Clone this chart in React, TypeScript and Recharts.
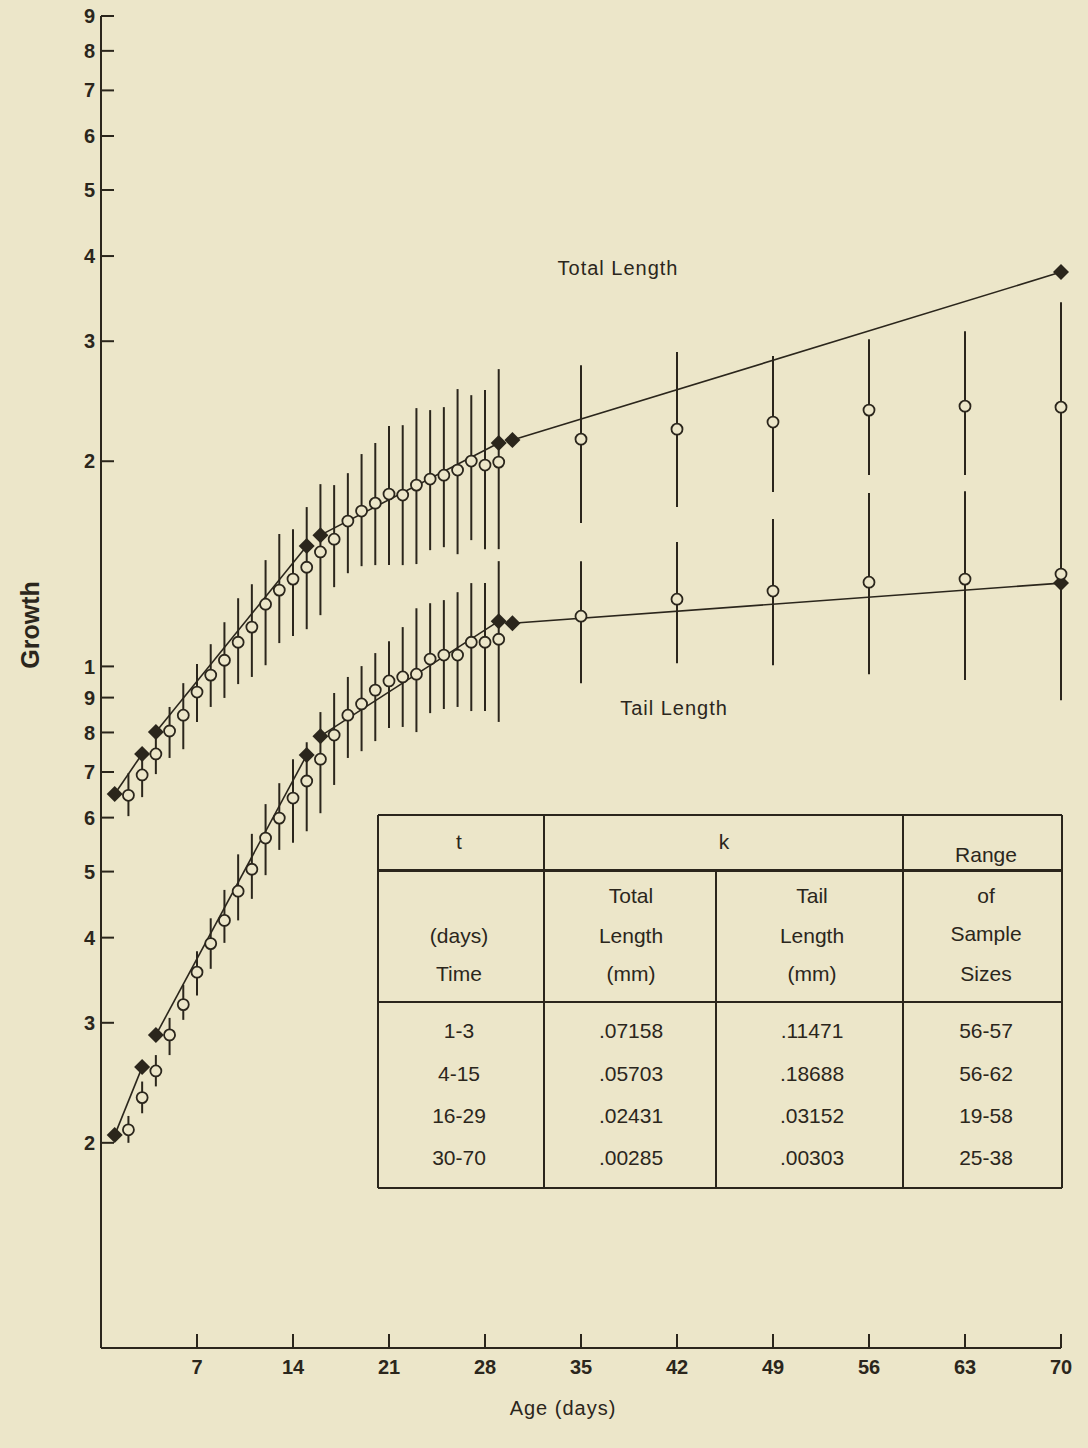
import { ComposedChart, Scatter, XAxis, YAxis, ErrorBar } from "recharts";

const INK = "#2b261c";
const BG = "#ece6c9";
const FONT = "'Liberation Sans', Arial, Helvetica, sans-serif";

const xTicks = [7, 14, 21, 28, 35, 42, 49, 56, 63, 70];
const yTicks = [0.2, 0.3, 0.4, 0.5, 0.6, 0.7, 0.8, 0.9, 1, 2, 3, 4, 5, 6, 7, 8, 9];

// sampled ages (days)
const sampleDays = [
  2, 3, 4, 5, 6, 7, 8, 9, 10, 11, 12, 13, 14, 15, 16, 17, 18, 19, 20, 21, 22, 23, 24, 25, 26, 27, 28, 29,
  35, 42, 49, 56, 63, 70,
];

// total length: mean and range
const totalMean = [
  0.647, 0.693, 0.744, 0.804, 0.848, 0.917, 0.971, 1.021, 1.085, 1.142, 1.234, 1.294, 1.343, 1.398,
  1.472, 1.537, 1.634, 1.69, 1.736, 1.79, 1.784, 1.845, 1.883, 1.908, 1.941, 2.001, 1.974, 1.994,
  2.155, 2.229, 2.283, 2.377, 2.409, 2.401,
];
const totalLow = [
  0.603, 0.643, 0.695, 0.734, 0.756, 0.829, 0.872, 0.899, 0.942, 0.965, 1.004, 1.082, 1.108, 1.134,
  1.189, 1.307, 1.37, 1.403, 1.408, 1.408, 1.408, 1.413, 1.481, 1.496, 1.461, 1.532, 1.486, 1.486,
  1.623, 1.713, 1.802, 1.909, 1.909, 1.679,
];
const totalHigh = [
  0.697, 0.741, 0.788, 0.872, 0.945, 1.008, 1.078, 1.161, 1.259, 1.32, 1.432, 1.564, 1.59, 1.713,
  1.851, 1.845, 1.921, 2.049, 2.127, 2.252, 2.259, 2.393, 2.377, 2.401, 2.552, 2.5, 2.543, 2.73,
  2.767, 2.892, 2.853, 3.021, 3.103, 3.422,
];

// tail length: mean and range
const tailMean = [
  0.209, 0.233, 0.255, 0.288, 0.319, 0.356, 0.392, 0.424, 0.468, 0.504, 0.56, 0.599, 0.641, 0.679,
  0.731, 0.793, 0.848, 0.881, 0.923, 0.952, 0.965, 0.974, 1.025, 1.039, 1.039, 1.085, 1.085, 1.096,
  1.185, 1.255, 1.29, 1.329, 1.343, 1.366,
];
const tailLow = [
  0.2, 0.221, 0.242, 0.269, 0.303, 0.329, 0.36, 0.393, 0.424, 0.456, 0.494, 0.538, 0.551, 0.573,
  0.609, 0.67, 0.734, 0.751, 0.777, 0.812, 0.815, 0.801, 0.854, 0.866, 0.872, 0.86, 0.86, 0.829,
  0.945, 1.011, 1.004, 0.974, 0.955, 0.892,
];
const tailHigh = [
  0.219, 0.246, 0.269, 0.305, 0.341, 0.382, 0.427, 0.47, 0.53, 0.568, 0.628, 0.674, 0.731, 0.774,
  0.857, 0.914, 0.965, 1.001, 1.046, 1.089, 1.142, 1.217, 1.238, 1.251, 1.285, 1.325, 1.325, 1.427,
  1.427, 1.522, 1.645, 1.796, 1.807, 1.987,
];

// fitted segments (start/end day and value)
const fitDays = [
  [1, 3],
  [4, 15],
  [16, 29],
  [30, 70],
];
const totalFit = [
  [0.65, 0.744],
  [0.801, 1.502],
  [1.558, 2.127],
  [2.148, 3.789],
];
const tailFit = [
  [0.2053, 0.2583],
  [0.2878, 0.7412],
  [0.79, 1.165],
  [1.157, 1.325],
];

// inset table
const tablePeriods = ["1-3", "4-15", "16-29", "30-70"];
const tableTotalK = [".07158", ".05703", ".02431", ".00285"];
const tableTailK = [".11471", ".18688", ".03152", ".00303"];
const tableRanges = ["56-57", "56-62", "19-58", "25-38"];

const sampleData = (mean: number[], low: number[], high: number[]) =>
  sampleDays.map((d, i) => ({ x: d, y: mean[i], err: [mean[i] - low[i], high[i] - mean[i]] }));

const fitData = (fit: number[][]) =>
  fitDays.map((days, i) => [
    { x: days[0], y: fit[i][0] },
    { x: days[1], y: fit[i][1] },
  ]);

const Circle = (props: any) => (
  <circle cx={props.cx} cy={props.cy} r={5.5} fill={BG} stroke={INK} strokeWidth={1.8} />
);

const Diamond = (props: any) => {
  const { cx, cy } = props;
  const s = 8;
  return (
    <polygon
      points={`${cx},${cy - s} ${cx + s},${cy} ${cx},${cy + s} ${cx - s},${cy}`}
      fill={INK}
    />
  );
};

const yFmt = (v: number) => (v < 1 ? String(Math.round(v * 10)) : String(v));

const tickStyle = { fontSize: 20, fontWeight: 700, fill: INK, fontFamily: FONT };

// table geometry (page px)
const colX = [378, 544, 716, 903, 1062];
const rowY = [815, 870, 1002, 1188];
const colCenter = [459, 631, 812, 986];
const dataRowY = [1030, 1073, 1115, 1157];

function Txt({ x, y, children, size = 21, weight = 400, style = {} }: any) {
  return (
    <div
      style={{
        position: "absolute",
        left: x,
        top: y,
        transform: "translate(-50%, -50%)",
        fontSize: size,
        fontWeight: weight,
        color: INK,
        fontFamily: FONT,
        whiteSpace: "nowrap",
        lineHeight: 1,
        ...style,
      }}
    >
      {children}
    </div>
  );
}

function Rule({ x1, y1, x2, y2, w = 2 }: any) {
  const horiz = y1 === y2;
  return (
    <div
      style={{
        position: "absolute",
        left: horiz ? x1 : x1 - w / 2,
        top: horiz ? y1 - w / 2 : y1,
        width: horiz ? x2 - x1 : w,
        height: horiz ? w : y2 - y1,
        background: INK,
      }}
    />
  );
}

function GrowthTable() {
  return (
    <>
      <Rule x1={colX[0]} y1={rowY[0]} x2={colX[4]} y2={rowY[0]} />
      <Rule x1={colX[0]} y1={rowY[1]} x2={colX[4]} y2={rowY[1]} w={3} />
      <Rule x1={colX[0]} y1={rowY[2]} x2={colX[4]} y2={rowY[2]} />
      <Rule x1={colX[0]} y1={rowY[3]} x2={colX[4]} y2={rowY[3]} />
      <Rule x1={colX[0]} y1={rowY[0]} x2={colX[0]} y2={rowY[3]} />
      <Rule x1={colX[1]} y1={rowY[0]} x2={colX[1]} y2={rowY[3]} />
      <Rule x1={colX[2]} y1={rowY[1]} x2={colX[2]} y2={rowY[3]} />
      <Rule x1={colX[3]} y1={rowY[0]} x2={colX[3]} y2={rowY[3]} />
      <Rule x1={colX[4]} y1={rowY[0]} x2={colX[4]} y2={rowY[3]} />

      <Txt x={colCenter[0]} y={841}>t</Txt>
      <Txt x={724} y={841}>k</Txt>
      <Txt x={colCenter[3]} y={854}>Range</Txt>

      <Txt x={colCenter[0]} y={935}>(days)</Txt>
      <Txt x={colCenter[0]} y={973}>Time</Txt>
      <Txt x={colCenter[1]} y={895}>Total</Txt>
      <Txt x={colCenter[1]} y={935}>Length</Txt>
      <Txt x={colCenter[1]} y={973}>(mm)</Txt>
      <Txt x={colCenter[2]} y={895}>Tail</Txt>
      <Txt x={colCenter[2]} y={935}>Length</Txt>
      <Txt x={colCenter[2]} y={973}>(mm)</Txt>
      <Txt x={colCenter[3]} y={895}>of</Txt>
      <Txt x={colCenter[3]} y={933}>Sample</Txt>
      <Txt x={colCenter[3]} y={973}>Sizes</Txt>

      {tablePeriods.map((p, i) => (
        <Txt key={"p" + i} x={colCenter[0]} y={dataRowY[i]}>{p}</Txt>
      ))}
      {tableTotalK.map((v, i) => (
        <Txt key={"tk" + i} x={colCenter[1]} y={dataRowY[i]}>{v}</Txt>
      ))}
      {tableTailK.map((v, i) => (
        <Txt key={"lk" + i} x={colCenter[2]} y={dataRowY[i]}>{v}</Txt>
      ))}
      {tableRanges.map((v, i) => (
        <Txt key={"r" + i} x={colCenter[3]} y={dataRowY[i]}>{v}</Txt>
      ))}
    </>
  );
}

export default function App() {
  const totalSamples = sampleData(totalMean, totalLow, totalHigh);
  const tailSamples = sampleData(tailMean, tailLow, tailHigh);
  const totalSegs = fitData(totalFit);
  const tailSegs = fitData(tailFit);

  return (
    <div
      style={{
        position: "absolute",
        left: 0,
        top: 0,
        width: 1088,
        height: 1448,
        background: BG,
        overflow: "hidden",
      }}
    >
      <ComposedChart
        width={1088}
        height={1448}
        margin={{ top: 16, right: 27, bottom: 40, left: 41 }}
      >
        <XAxis
          type="number"
          dataKey="x"
          domain={[0, 70]}
          ticks={xTicks}
          stroke={INK}
          axisLine={{ stroke: INK, strokeWidth: 2 }}
          tickLine={{ stroke: INK, strokeWidth: 2 }}
          tickSize={-14}
          tickMargin={26}
          height={60}
          tick={tickStyle}
        />
        <YAxis
          type="number"
          dataKey="y"
          scale="log"
          domain={[0.1, 9]}
          ticks={yTicks}
          interval={0}
          tickFormatter={yFmt}
          stroke={INK}
          axisLine={{ stroke: INK, strokeWidth: 2 }}
          tickLine={{ stroke: INK, strokeWidth: 2 }}
          tickSize={-13}
          tickMargin={19}
          width={60}
          tick={tickStyle}
        />
        {totalSegs.map((seg, i) => (
          <Scatter
            key={"tf" + i}
            data={seg}
            line={{ stroke: INK, strokeWidth: 1.6 }}
            lineType="joint"
            shape={Diamond}
            isAnimationActive={false}
          />
        ))}
        {tailSegs.map((seg, i) => (
          <Scatter
            key={"lf" + i}
            data={seg}
            line={{ stroke: INK, strokeWidth: 1.6 }}
            lineType="joint"
            shape={Diamond}
            isAnimationActive={false}
          />
        ))}
        <Scatter data={totalSamples} shape={Circle} isAnimationActive={false}>
          <ErrorBar dataKey="err" direction="y" width={0} stroke={INK} strokeWidth={2} isAnimationActive={false} />
        </Scatter>
        <Scatter data={tailSamples} shape={Circle} isAnimationActive={false}>
          <ErrorBar dataKey="err" direction="y" width={0} stroke={INK} strokeWidth={2} isAnimationActive={false} />
        </Scatter>
      </ComposedChart>

      <Txt x={618} y={268} size={20} style={{ letterSpacing: 1 }}>Total Length</Txt>
      <Txt x={674} y={708} size={20} style={{ letterSpacing: 1 }}>Tail Length</Txt>
      <Txt x={30} y={625} size={25} weight={700} style={{ transform: "translate(-50%, -50%) rotate(-90deg)" }}>
        Growth
      </Txt>
      <Txt x={563} y={1408} size={20} style={{ letterSpacing: 1 }}>Age (days)</Txt>

      <GrowthTable />
    </div>
  );
}
